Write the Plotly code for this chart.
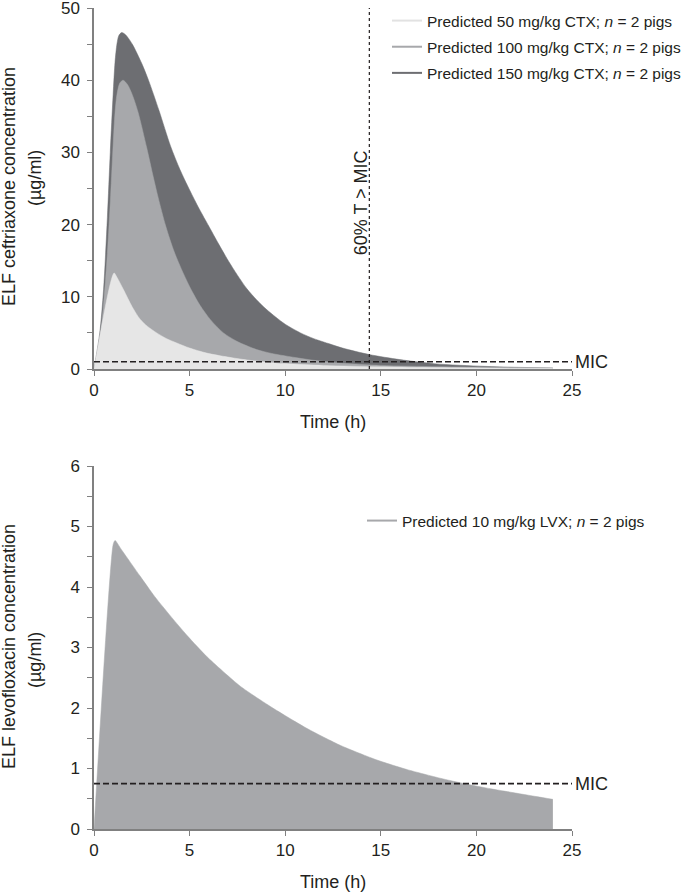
import plotly.graph_objects as go

# ---------------- data ----------------
# Ceftriaxone (CTX) ELF predictions
time_ctx_150 = [0, 0.3, 0.5, 0.7, 0.85, 1.0, 1.1, 1.2, 1.3, 1.45, 1.65, 2.0, 2.5, 2.85, 3.4, 4.0, 4.5,
                5.0, 5.5, 6.0, 6.5, 7.0, 7.5, 8.0, 8.5, 9.0, 9.5, 10.0, 10.8, 11.5, 12.35, 13.0,
                14.4, 16.0, 17.8, 20.4, 22.0, 24.0]
conc_ctx_150 = [0, 5, 11, 21, 30, 38, 42.5, 45, 46.2, 46.6, 46.3, 45.0, 42.3, 40.0, 35.8, 30.9, 27.6,
                24.8, 22.2, 19.8, 17.4, 15.1, 13.0, 11.1, 9.6, 8.3, 7.2, 6.2, 5.0, 4.2, 3.45, 2.9,
                2.0, 1.3, 0.73, 0.37, 0.24, 0.14]

time_ctx_100 = [0, 0.3, 0.5, 0.7, 0.87, 1.0, 1.1, 1.2, 1.35, 1.52, 1.75, 2.0, 2.3, 2.76, 3.1, 3.35,
                3.75, 4.2, 4.68, 5.1, 5.55, 6.1, 6.77, 7.5, 8.5, 9.3, 10.26, 11.5, 13.0, 15.0, 18.0,
                21.0, 24.0]
conc_ctx_100 = [0, 4, 9, 16, 24, 31, 35.5, 38, 39.6, 40.0, 39.4, 38.0, 35.6, 30.6, 26.6, 23.8,
                19.8, 16.2, 13.2, 10.9, 8.8, 6.8, 5.0, 3.8, 2.7, 2.15, 1.7, 1.2, 0.78, 0.5, 0.32,
                0.22, 0.15]

time_ctx_50 = [0, 1.05, 1.2, 1.54, 2.0, 2.41, 2.8, 3.28, 3.8, 4.33, 5.0, 5.9, 7.0, 8.0, 9.0, 10.0,
               12.0, 15.0, 18.0, 21.0, 24.0]
conc_ctx_50 = [0, 13.3, 12.7, 11.0, 8.6, 6.9, 5.9, 5.0, 4.2, 3.6, 2.9, 2.2, 1.65, 1.25, 0.95, 0.75,
               0.5, 0.3, 0.2, 0.13, 0.09]

# Levofloxacin (LVX) ELF prediction
time_lvx = [0, 1.0, 1.1, 1.43, 2.41, 3.18, 4.16, 4.92, 5.9, 7.65, 9.4, 11.15, 12.9, 14.8, 16.4,
            18.1, 19.36, 20.75, 22.5, 24.0]
conc_lvx = [0, 4.7, 4.77, 4.62, 4.18, 3.84, 3.46, 3.18, 2.85, 2.36, 1.99, 1.66, 1.38, 1.14, 0.98,
            0.84, 0.75, 0.665, 0.57, 0.49]

mic_ctx = 1.0
mic_lvx = 0.75
dosing_interval = 24.0
t_above_mic = 0.6 * dosing_interval   # 60% T > MIC

x_ticks = [0, 5, 10, 15, 20, 25]
y_ticks_ctx = [0, 10, 20, 30, 40, 50]
y_ticks_lvx = [0, 1, 2, 3, 4, 5, 6]

names_ctx = ["Predicted 50 mg/kg CTX; <i>n</i> = 2 pigs",
             "Predicted 100 mg/kg CTX; <i>n</i> = 2 pigs",
             "Predicted 150 mg/kg CTX; <i>n</i> = 2 pigs"]
name_lvx = "Predicted 10 mg/kg LVX; <i>n</i> = 2 pigs"

# ---------------- styling ----------------
FONT = "Liberation Sans, Arial, Helvetica, sans-serif"
TXT = "#231f20"
AXC = "#808080"
C_LIGHT = "#e6e6e6"
C_LEG_LIGHT = "#e2e2e2"
C_MED = "#a7a8ab"
C_DARK = "#6d6e72"

W, H = 685, 893
ML, MR, MT, MB = 94, 113, 8, 64
PW = W - ML - MR
PH = H - MT - MB


def px_x(px):
    return (px - ML) / PW


def px_y(py):
    return (H - MB - py) / PH


fig = go.Figure()

# top panel fills (drawn dark -> light so lighter ones sit on top)
for t, c, col in [(time_ctx_150, conc_ctx_150, C_DARK),
                  (time_ctx_100, conc_ctx_100, C_MED),
                  (time_ctx_50, conc_ctx_50, C_LIGHT)]:
    fig.add_trace(go.Scatter(x=t, y=c, mode="lines", fill="tozeroy", fillcolor=col,
                             line=dict(color=col, width=0.5, shape="spline", smoothing=0.8),
                             showlegend=False, xaxis="x", yaxis="y", hoverinfo="skip"))

# MIC line (top)
fig.add_trace(go.Scatter(x=[0, 25], y=[mic_ctx, mic_ctx], mode="lines",
                         line=dict(color=TXT, width=1.6, dash="6px,3px"),
                         showlegend=False, xaxis="x", yaxis="y", hoverinfo="skip"))
# 60% T > MIC line
fig.add_trace(go.Scatter(x=[t_above_mic, t_above_mic], y=[0, 50], mode="lines",
                         line=dict(color=TXT, width=1.2, dash="dot"),
                         showlegend=False, xaxis="x", yaxis="y", hoverinfo="skip"))

# legend entries (top)
for i, (nm, col) in enumerate(zip(names_ctx, [C_LEG_LIGHT, C_MED, C_DARK])):
    fig.add_trace(go.Scatter(x=[None], y=[None], mode="lines", name=nm,
                             line=dict(color=col, width=2), legend="legend",
                             legendgroup="g%d" % i, xaxis="x", yaxis="y"))

# bottom panel
fig.add_trace(go.Scatter(x=time_lvx, y=conc_lvx, mode="lines", fill="tozeroy", fillcolor=C_MED,
                         line=dict(color=C_MED, width=0.5, shape="spline", smoothing=0.6),
                         showlegend=False, xaxis="x2", yaxis="y2", hoverinfo="skip"))
fig.add_trace(go.Scatter(x=[0, 25], y=[mic_lvx, mic_lvx], mode="lines",
                         line=dict(color=TXT, width=1.6, dash="6px,3px"),
                         showlegend=False, xaxis="x2", yaxis="y2", hoverinfo="skip"))
fig.add_trace(go.Scatter(x=[None], y=[None], mode="lines", name=name_lvx,
                         line=dict(color=C_MED, width=2), legend="legend2",
                         xaxis="x2", yaxis="y2"))

axis_common = dict(showline=True, linecolor=AXC, linewidth=1.5, ticks="outside", ticklen=5,
                   tickwidth=1.2, tickcolor=AXC, showgrid=False, zeroline=False,
                   automargin=False, ticklabeloverflow="allow",
                   tickfont=dict(family=FONT, size=17, color=TXT), fixedrange=True)

top_dom = [px_y(369), 1.0]
bot_dom = [0.0, px_y(466)]

fig.update_layout(
    width=W, height=H,
    margin=dict(l=ML, r=MR, t=MT, b=MB, autoexpand=False),
    paper_bgcolor="white", plot_bgcolor="white",
    font=dict(family=FONT, color=TXT),
    xaxis=dict(range=[0, 25], tickvals=x_ticks, anchor="y", domain=[0, 1],
               ticklabelstandoff=0, **axis_common),
    yaxis=dict(range=[0, 50], tickvals=y_ticks_ctx, anchor="x", domain=top_dom,
               minor=dict(dtick=5, ticks="outside", ticklen=5, tickcolor=AXC, tickwidth=1.2,
                          showgrid=False),
               ticklabelstandoff=4, **axis_common),
    xaxis2=dict(range=[0, 25], tickvals=x_ticks, anchor="y2", domain=[0, 1],
                ticklabelstandoff=0, **axis_common),
    yaxis2=dict(range=[0, 6], tickvals=y_ticks_lvx, anchor="x2", domain=bot_dom,
                minor=dict(dtick=0.5, ticks="outside", ticklen=5, tickcolor=AXC, tickwidth=1.2,
                           showgrid=False),
                ticklabelstandoff=4, **axis_common),
    legend=dict(x=px_x(387), y=px_y(4), xanchor="left", yanchor="top",
                font=dict(family=FONT, size=15.5, color=TXT), bgcolor="rgba(0,0,0,0)",
                traceorder="grouped", tracegroupgap=3, itemclick=False),
    legend2=dict(x=px_x(362), y=px_y(504), xanchor="left", yanchor="top",
                 font=dict(family=FONT, size=15.5, color=TXT), bgcolor="rgba(0,0,0,0)",
                 itemclick=False),
)

ann = []
title_font = dict(family=FONT, size=18, color=TXT)
# y-axis titles
ann.append(dict(text="ELF ceftriaxone concentration", x=px_x(9), y=px_y(187), xref="paper",
                yref="paper", textangle=-90, showarrow=False, xanchor="center",
                yanchor="middle", font=title_font))
ann.append(dict(text="(µg/ml)", x=px_x(35), y=px_y(178), xref="paper", yref="paper",
                textangle=-90, showarrow=False, xanchor="center", yanchor="middle",
                font=title_font))
ann.append(dict(text="ELF levofloxacin concentration", x=px_x(9), y=px_y(647), xref="paper",
                yref="paper", textangle=-90, showarrow=False, xanchor="center",
                yanchor="middle", font=title_font))
ann.append(dict(text="(µg/ml)", x=px_x(35), y=px_y(660), xref="paper", yref="paper",
                textangle=-90, showarrow=False, xanchor="center", yanchor="middle",
                font=title_font))
# x-axis titles
ann.append(dict(text="Time (h)", x=0.5, y=px_y(422), xref="paper", yref="paper",
                showarrow=False, xanchor="center", yanchor="middle", font=title_font))
ann.append(dict(text="Time (h)", x=0.5, y=px_y(882), xref="paper", yref="paper",
                showarrow=False, xanchor="center", yanchor="middle", font=title_font))
# MIC labels
ann.append(dict(text="MIC", x=25, y=mic_ctx, xref="x", yref="y", showarrow=False,
                xanchor="left", yanchor="middle", xshift=1, font=title_font))
ann.append(dict(text="MIC", x=25, y=mic_lvx, xref="x2", yref="y2", showarrow=False,
                xanchor="left", yanchor="middle", xshift=1, font=title_font))
# 60% T > MIC
ann.append(dict(text="60% T > MIC", x=t_above_mic, y=23, xref="x", yref="y", showarrow=False,
                textangle=-90, xanchor="center", yanchor="middle", xshift=-8,
                font=title_font))
fig.update_layout(annotations=ann)

fig.write_html("out.html",
               config={"displayModeBar": False},
               post_script="document.body.style.margin='0px';"
                           "document.body.style.overflow='hidden';")
